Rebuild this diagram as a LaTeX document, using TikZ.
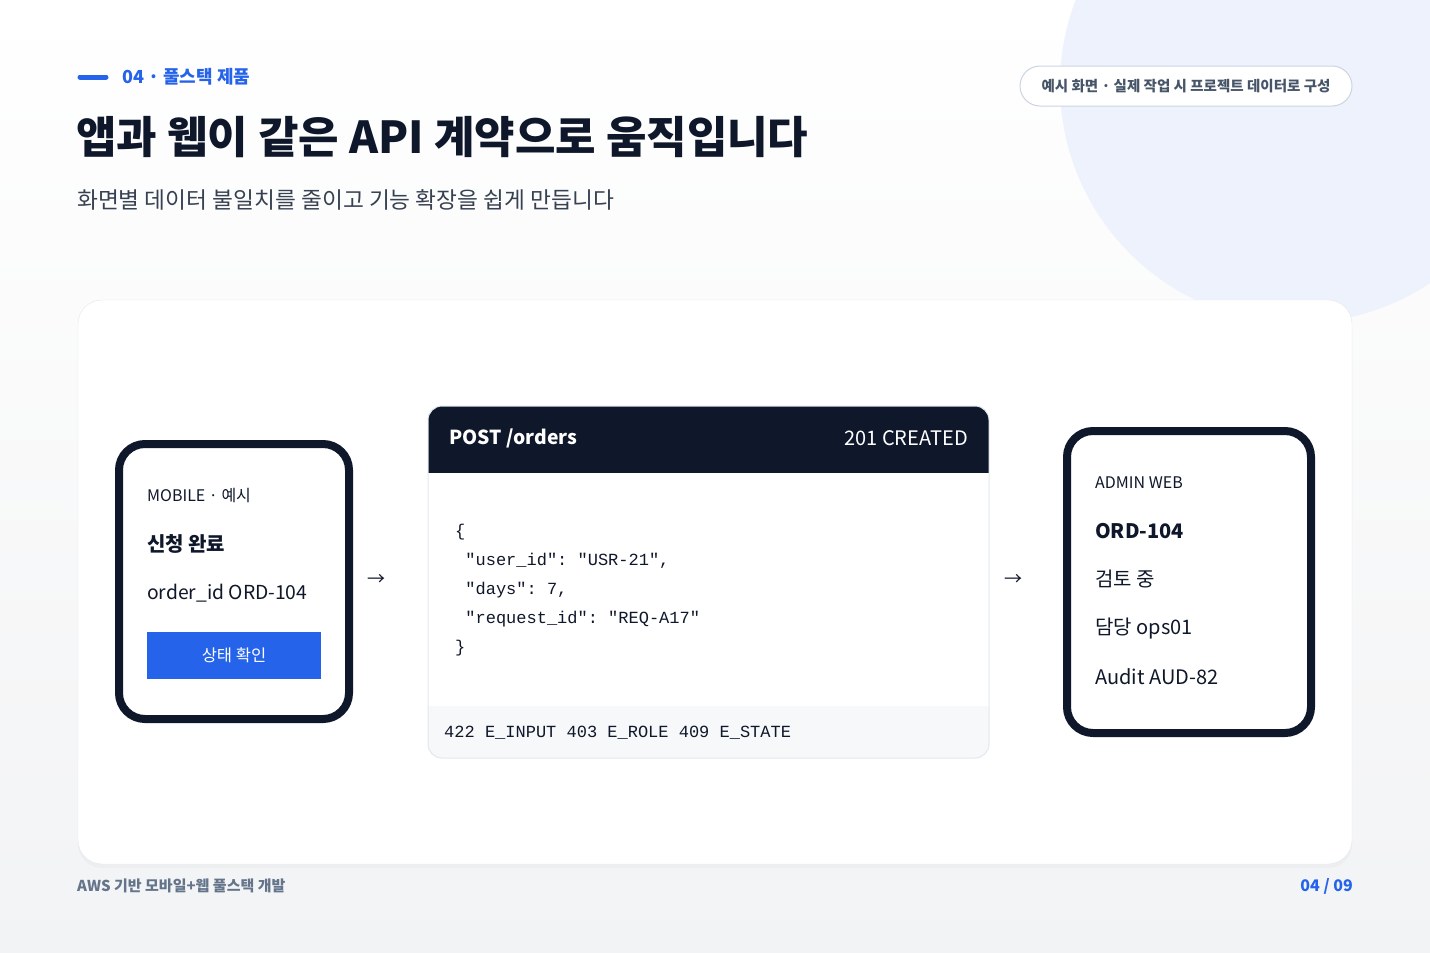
\documentclass[tikz,border=0pt]{standalone}
\usepackage{fontspec}
\setmainfont{Noto Sans CJK KR}
\setmonofont{Liberation Mono}
\usetikzlibrary{positioning,shadows}

\definecolor{navy}{HTML}{0F172A}
\definecolor{brandblue}{HTML}{2563EB}
\definecolor{subgray}{HTML}{374151}
\definecolor{slategray}{HTML}{475569}
\definecolor{footgray}{HTML}{64748B}
\definecolor{edgegray}{HTML}{E2E8F0}
\definecolor{pilledge}{HTML}{CBD5E1}
\definecolor{codebg}{HTML}{F6F8FA}
\definecolor{blob}{HTML}{EEF2FD}

\begin{document}
\begin{tikzpicture}[x=1pt,y=-1pt,
    txt/.style={inner sep=0pt,anchor=west,text=navy},
    phone/.style={draw=navy,line width=8pt,fill=white,rounded corners=26pt},
    mono/.style={txt,font=\ttfamily\fontsize{17}{20}\selectfont}]
  \clip (0,0) rectangle (1430,953);
  \shade[top color=white,bottom color=white!93!slategray] (0,0) rectangle (1430,953);
  \fill[blob] (1298,85) circle[radius=238pt];

  % header
  \draw[brandblue,line width=5pt,line cap=round] (80,77) -- (106,77);
  \node[txt,text=brandblue,font=\bfseries\fontsize{18}{20}\selectfont] (kicker) at (122,77) {04 · 풀스택 제품};
  \node[txt,font=\bfseries\fontsize{44}{48}\selectfont] (title) at (76,137) {앱과 웹이 같은 API 계약으로 움직입니다};
  \node[txt,text=subgray,font=\fontsize{22.7}{26}\selectfont] (subtitle) at (77,200) {화면별 데이터 불일치를 줄이고 기능 확장을 쉽게 만듭니다};
  \node[draw=pilledge,fill=white,rounded corners=20pt,minimum width=332pt,minimum height=40pt,line width=1pt,
        text=slategray,font=\bfseries\fontsize{14.5}{16}\selectfont] (pill) at (1186,86) {예시 화면 · 실제 작업 시 프로젝트 데이터로 구성};

  % main panel
  \node[draw=edgegray,fill=white,rounded corners=24pt,minimum width=1274pt,minimum height=564pt,
        drop shadow={opacity=0.05,shadow xshift=0pt,shadow yshift=-4pt}] (panel) at (715,582) {};

  % mobile card
  \node[phone,minimum width=230pt,minimum height=275pt] (mobile) at (234,581.5) {};
  \node[txt,font=\fontsize{16}{18}\selectfont] (mlabel) at (147,496) {MOBILE · 예시};
  \node[txt,font=\bfseries\fontsize{20}{22}\selectfont] (mhead) at (147,544) {신청 완료};
  \node[txt,font=\fontsize{19.3}{22}\selectfont] (morder) at (147,593) {order\_id ORD-104};
  \node[fill=brandblue,minimum width=174pt,minimum height=47pt,inner sep=0pt,text=white,
        font=\fontsize{16.5}{18}\selectfont] (mbutton) at (234,655) {상태 확인};

  \node[txt,font=\fontsize{18}{20}\selectfont] (arrowa) at (367,580) {→};

  % api card
  \begin{scope}
    \clip[rounded corners=14pt] (428,406) rectangle (989,758);
    \fill[white] (428,406) rectangle (989,758);
    \fill[navy] (428,406) rectangle (989,473);
    \fill[codebg] (428,706) rectangle (989,758);
  \end{scope}
  \node[draw=edgegray,rounded corners=14pt,minimum width=561pt,minimum height=352pt,line width=1pt] (api) at (708.5,582) {};
  \node[txt,text=white,font=\bfseries\fontsize{19.3}{22}\selectfont] (verb) at (449,438) {POST /orders};
  \node[txt,anchor=east,text=white,font=\fontsize{20}{22}\selectfont] (status) at (968,438) {201 CREATED};
  \foreach \y/\t [count=\i] in {532/\{, 561/{\ "user\_id": "USR-21",}, 590/{\ "days": 7,},
      619/{\ "request\_id": "REQ-A17"}, 648/\}}
    \node[mono] (json\i) at (455,\y) {\t};
  \node[mono] (errors) at (444,733) {422 E\_INPUT 403 E\_ROLE 409 E\_STATE};

  \node[txt,font=\fontsize{18}{20}\selectfont] (arrowb) at (1004,580) {→};

  % admin card
  \node[phone,minimum width=244pt,minimum height=302pt] (admin) at (1189,582) {};
  \node[txt,font=\fontsize{16}{18}\selectfont] (alabel) at (1095,483) {ADMIN WEB};
  \node[txt,font=\bfseries\fontsize{20}{22}\selectfont] (ahead) at (1095,531) {ORD-104};
  \foreach \y/\t [count=\i] in {579/검토 중, 629/담당 ops01, 677/Audit AUD-82}
    \node[txt,font=\fontsize{20}{22}\selectfont] (arow\i) at (1095,\y) {\t};

  % footer
  \node[txt,text=footgray,font=\bfseries\fontsize{15}{16}\selectfont] (footer) at (77,886) {AWS 기반 모바일+웹 풀스택 개발};
  \node[txt,anchor=east,text=brandblue,font=\bfseries\fontsize{16}{18}\selectfont] (page) at (1353,886) {04 / 09};
\end{tikzpicture}
\end{document}
